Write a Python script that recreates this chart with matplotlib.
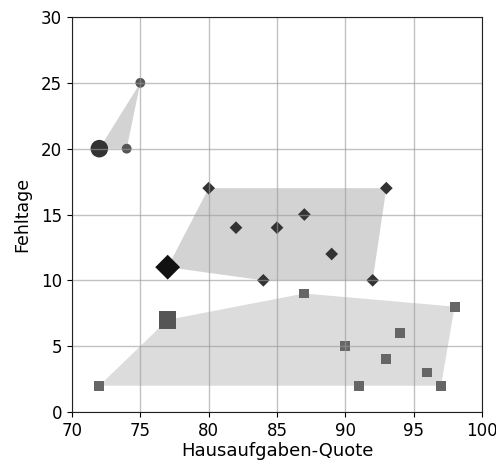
import matplotlib
matplotlib.use("Agg")
import matplotlib.pyplot as plt
import numpy as np

# Cluster data
circ_x = [75, 74]
circ_y = [25, 20]
circ_cx, circ_cy = 72, 20

dia_x = [80, 93, 82, 85, 87, 89, 84, 92]
dia_y = [17, 17, 14, 14, 15, 12, 10, 10]
dia_cx, dia_cy = 77, 11

sq_x = [72, 87, 98, 94, 90, 93, 96, 91, 97]
sq_y = [2, 9, 8, 6, 5, 4, 3, 2, 2]
sq_cx, sq_cy = 77, 7

x_ticks = [70, 75, 80, 85, 90, 95, 100]
y_ticks = [0, 5, 10, 15, 20, 25, 30]


def hull(px, py):
    pts = sorted(set(zip(px, py)))
    if len(pts) < 3:
        return pts
    def cross(o, a, b):
        return (a[0]-o[0])*(b[1]-o[1]) - (a[1]-o[1])*(b[0]-o[0])
    lower = []
    for p in pts:
        while len(lower) >= 2 and cross(lower[-2], lower[-1], p) <= 0:
            lower.pop()
        lower.append(p)
    upper = []
    for p in reversed(pts):
        while len(upper) >= 2 and cross(upper[-2], upper[-1], p) <= 0:
            upper.pop()
        upper.append(p)
    return lower[:-1] + upper[:-1]


fig = plt.figure(figsize=(4.96, 4.66), dpi=100)
ax = fig.add_axes([72/496, 1-412/466, 410/496, 395/466])

groups = [
    (circ_x, circ_y, circ_cx, circ_cy, 'o', '#555555', '#333333', '#d3d3d3', 50, 160),
    (dia_x, dia_y, dia_cx, dia_cy, 'D', '#333333', '#111111', '#d3d3d3', 42, 160),
    (sq_x, sq_y, sq_cx, sq_cy, 's', '#666666', '#555555', '#dcdcdc', 50, 160),
]
for gx, gy, cx, cy, m, col, ccol, fill, s, cs in groups:
    h = hull(gx + [cx], gy + [cy])
    ax.fill([p[0] for p in h], [p[1] for p in h], color=fill, zorder=1, lw=0)
    ax.scatter(gx, gy, marker=m, s=s, color=col, zorder=2, edgecolors='none')
    ax.scatter([cx], [cy], marker=m, s=cs, color=ccol, zorder=2.5, edgecolors='none')

ax.set_xlim(70, 100)
ax.set_ylim(0, 30)
ax.set_xticks(x_ticks)
ax.set_yticks(y_ticks)
ax.set_axisbelow(False)
ax.grid(True, color='#999999', lw=1, alpha=0.6, zorder=3)
ax.tick_params(labelsize=12)
ax.set_xlabel('Hausaufgaben-Quote', fontsize=13, labelpad=2)
ax.set_ylabel('Fehltage', fontsize=12.5, labelpad=7)
for sp in ax.spines.values():
    sp.set_color('#222222')
    sp.set_zorder(4)

fig.savefig('out.png', dpi=100)
